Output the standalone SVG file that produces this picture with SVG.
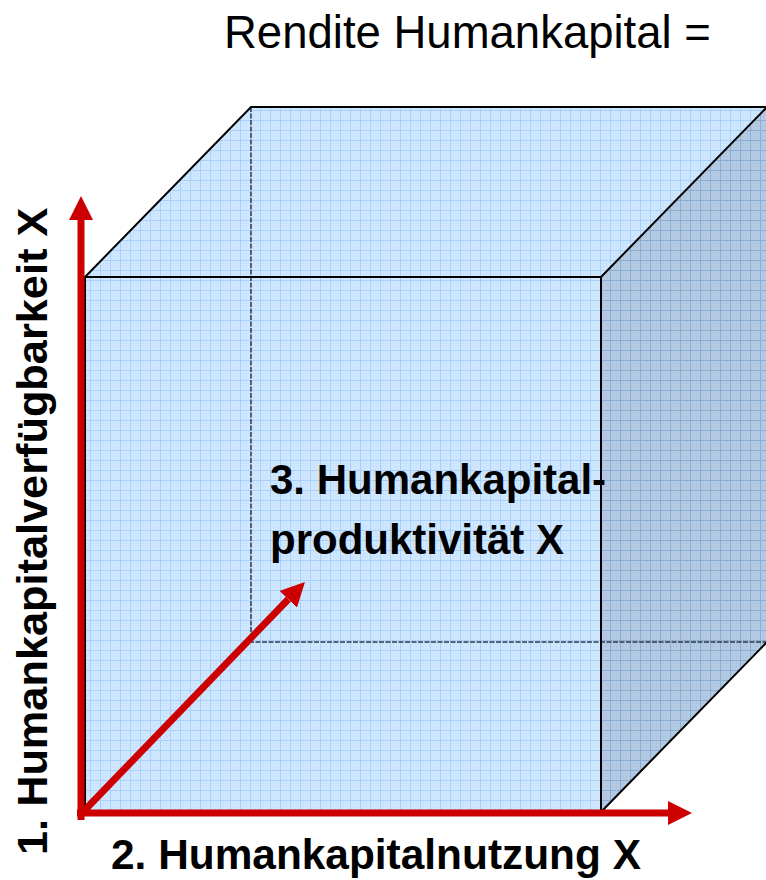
<svg xmlns="http://www.w3.org/2000/svg" width="766" height="880" viewBox="0 0 766 880">
<style>
.edge{fill:none;stroke:#000;stroke-width:2;stroke-linejoin:miter}
.hidden{fill:none;stroke:#2f3a4a;stroke-width:1.5;stroke-dasharray:5 1.5}
.axis{fill:none;stroke:#cc0000;stroke-width:7;marker-end:url(#head)}
.lbl{font-family:"Liberation Sans",Arial,sans-serif;font-weight:bold;font-size:42px;fill:#000}
.title{font-family:"Liberation Sans",Arial,sans-serif;font-size:45.5px;fill:#000}
</style>
<defs>
<pattern id="gridL" width="10" height="10" patternUnits="userSpaceOnUse">
<rect width="10" height="10" fill="#cfe6ff"/>
<path d="M0,0.5H10M0.5,0V10" stroke="#a9d0fb" stroke-width="1"/>
<path d="M3,3h1v1h-1zM6,6h1v1h-1zM6,3h1v1h-1zM3,6h1v1h-1z" fill="#bcdcfc"/>
</pattern>
<pattern id="gridD" width="10" height="10" patternUnits="userSpaceOnUse">
<rect width="10" height="10" fill="#b4cae3"/>
<path d="M0,0.5H10M0.5,0V10" stroke="#8aadd4" stroke-width="1"/>
<path d="M3,3h1v1h-1zM6,6h1v1h-1zM6,3h1v1h-1zM3,6h1v1h-1z" fill="#a3bedd"/>
</pattern>
<marker id="head" viewBox="0 0 24 24" markerWidth="24" markerHeight="24" markerUnits="userSpaceOnUse" refX="0" refY="12" orient="auto">
<path d="M0,0L24,12L0,24z" fill="#cc0000"/>
</marker>
</defs>
<text class="title" x="224" y="48">Rendite Humankapital =</text>
<g id="cube">
<polygon id="top-face" points="85,277 251,107 767,107 601,277" fill="url(#gridL)"/>
<rect id="front-face" x="85" y="277" width="516" height="535" fill="url(#gridL)"/>
<polygon id="right-face" points="601,277 767,107 767,642 601,812" fill="url(#gridD)"/>
<path class="hidden" d="M251,107V642H767"/>
<path class="edge" d="M85,277L251,107H767M85,277H601V812H85ZM601,277L767,107M601,812L767,642"/>
</g>
<g id="connectors">
<line class="axis" x1="81" y1="820" x2="81" y2="220"/>
<line class="axis" x1="77" y1="813" x2="668" y2="813"/>
<line class="axis" x1="80" y1="815" x2="288.3" y2="599.3"/>
</g>
<g id="label-1">
<text class="lbl" style="font-size:43.3px" transform="translate(47,855) rotate(-90)">1. Humankapitalverfügbarkeit X</text>
</g>
<g id="label-2">
<text class="lbl" style="font-size:42.4px" x="111" y="869">2. Humankapitalnutzung X</text>
</g>
<g id="label-3">
<text class="lbl" x="270" y="494">3. Humankapital-</text>
<text class="lbl" x="270" y="554">produktivität X</text>
</g>
</svg>
